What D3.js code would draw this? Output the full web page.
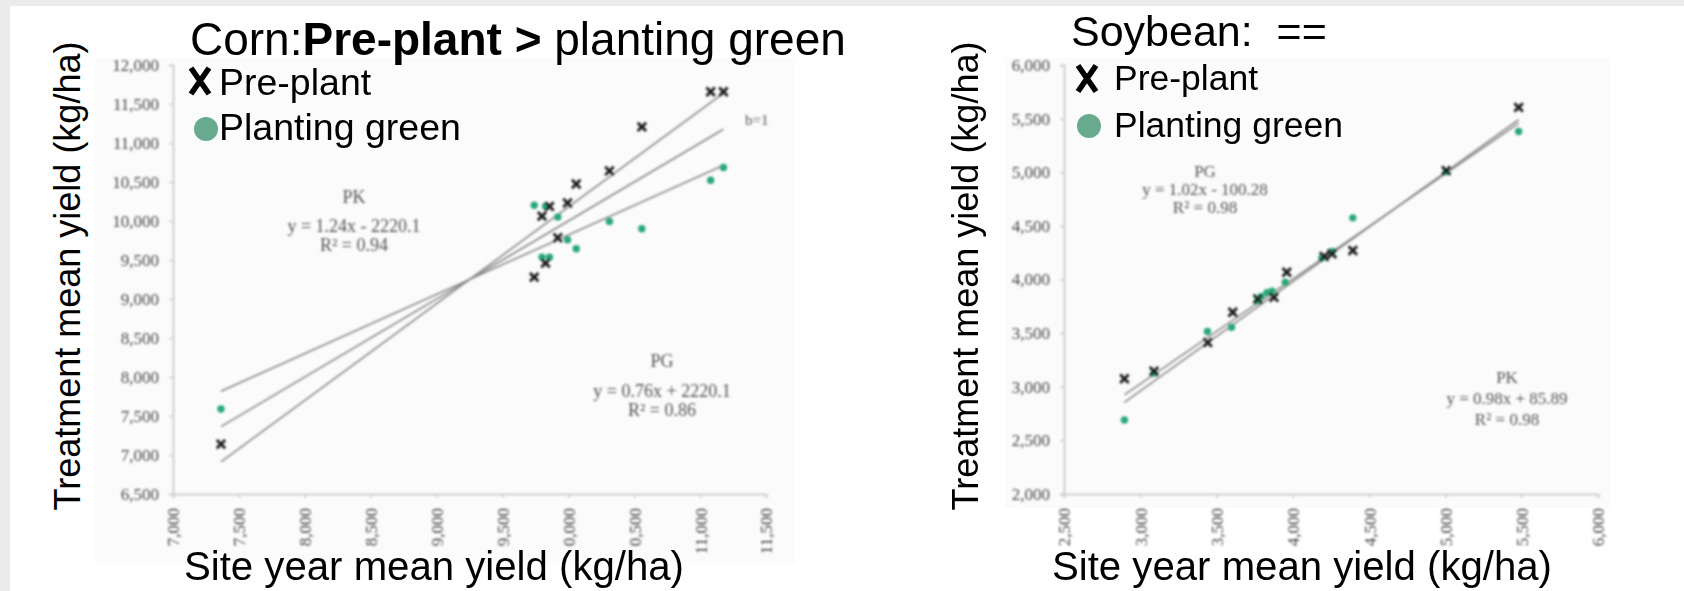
<!DOCTYPE html>
<html>
<head>
<meta charset="utf-8">
<script src="https://cdn.jsdelivr.net/npm/d3@7"></script>
<style>
  body { margin: 0; background: #ebebeb; }
  svg { display: block; }
</style>
</head>
<body>
<svg id="fig" width="1684" height="591"></svg>
<script>
// ---------------- Corn (site-year mean is shared by both treatments) ----------------
const cornSiteYear      = [7364, 9741, 9800, 9827, 9857, 9920, 9994, 10060, 10312, 10558, 11080, 11177];
const cornPrePlant      = [7139, 9280, 10063, 9460, 10188, 9786, 10231, 10475, 10642, 11207, 11657, 11657];
const cornPlantingGreen = [7589, 10201, 9537, 10190, 9537, 10051, 9760, 9645, 9995, 9901, 10522, 10685];
const cornXTicks = [7000, 7500, 8000, 8500, 9000, 9500, 10000, 10500, 11000, 11500];
const cornXTickLabels = ["7,000", "7,500", "8,000", "8,500", "9,000", "9,500", "0,000", "0,500", "11,000", "11,500"];
const cornYTicks = [6500, 7000, 7500, 8000, 8500, 9000, 9500, 10000, 10500, 11000, 11500, 12000];
// fitted lines: [label, slope, intercept]
const cornFits = [["PK", 1.24, -2220.1], ["PG", 0.76, 2220.1], ["1:1", 1, 0]];

// ---------------- Soybean ----------------
const soyPrePlantSite = [5480, 5005, 4393, 4257, 4205, 3960, 3876, 3770, 3606, 3442, 3090, 2896];
const soyPrePlant     = [5605, 5015, 4270, 4240, 4215, 4068, 3835, 3818, 3695, 3412, 3145, 3075];
const soyGreenSite    = [5480, 5005, 4393, 4257, 4190, 3950, 3863, 3830, 3790, 3768, 3598, 3440, 3090, 2896];
const soyPlantingGreen= [5380, 5005, 4575, 4262, 4200, 3975, 3892, 3878, 3840, 3800, 3555, 3515, 3125, 2690];
const soyXTicks = [2500, 3000, 3500, 4000, 4500, 5000, 5500, 6000];
const soyYTicks = [2000, 2500, 3000, 3500, 4000, 4500, 5000, 5500, 6000];
const soyFits = [["PG", 1.02, -100.28], ["PK", 0.98, 85.89]];

const fmt = d3.format(",");
const svg = d3.select("#fig");

// white slide area
svg.append("rect").attr("x", 10).attr("y", 6).attr("width", 1674).attr("height", 585).attr("fill", "#ffffff");

const defs = svg.append("defs");
defs.append("filter").attr("id", "soft").attr("x", "-5%").attr("y", "-5%").attr("width", "110%").attr("height", "110%")
  .append("feGaussianBlur").attr("stdDeviation", 0.8);

function panel(cfg) {
  const x = d3.scaleLinear().domain(cfg.xDomain).range(cfg.xRange);
  const y = d3.scaleLinear().domain(cfg.yDomain).range(cfg.yRange);

  // faint background of the pasted plot
  svg.append("rect").attr("x", cfg.bg[0]).attr("y", cfg.bg[1]).attr("width", cfg.bg[2]).attr("height", cfg.bg[3])
    .attr("fill", "#fbfbfb");

  const g = svg.append("g").attr("filter", "url(#soft)");

  // axes
  const yAxis = d3.axisLeft(y).tickValues(cfg.yTicks).tickFormat(fmt).tickSize(4).tickPadding(10);
  const xAxis = d3.axisBottom(x).tickValues(cfg.xTicks).tickFormat((d, i) => cfg.xLabels[i]).tickSize(4).tickPadding(6);

  const gy = g.append("g").attr("transform", `translate(${cfg.xRange[0]},0)`).call(yAxis);
  const gx = g.append("g").attr("transform", `translate(0,${cfg.yRange[0]})`).call(xAxis);
  [gx, gy].forEach(a => {
    a.select(".domain").attr("stroke", "#cfcfcf").attr("stroke-width", 2);
    a.selectAll(".tick line").attr("stroke", "#cfcfcf").attr("stroke-width", 1.5);
    a.selectAll("text").attr("font-family", "'Liberation Serif', 'Times New Roman', serif")
      .attr("font-size", cfg.tickFont).attr("fill", "#4a4a4a");
  });
  gx.selectAll(".tick text")
    .attr("text-anchor", "end")
    .attr("dy", "0.35em")
    .attr("transform", "translate(0,8) rotate(-90)")
    .attr("x", -6).attr("y", 0);

  // fitted lines over the data range
  const allX = cfg.xSeries.flat();
  const x0 = d3.min(allX), x1 = d3.max(allX);
  const line = d3.line().x(d => x(d[0])).y(d => y(d[1]));
  g.selectAll(".fit").data(cfg.fits).join("path")
    .attr("class", "fit")
    .attr("d", f => line([[x0, f[1] * x0 + f[2]], [x1, f[1] * x1 + f[2]]]))
    .attr("stroke", "#8a8a8a").attr("stroke-width", 1.6).attr("fill", "none");

  // planting green points
  g.selectAll(".pg").data(cfg.greenY.map((v, i) => [cfg.greenX[i], v])).join("circle")
    .attr("class", "pg")
    .attr("cx", d => x(d[0])).attr("cy", d => y(d[1])).attr("r", 3.7)
    .attr("fill", "#2ca87a");

  // pre-plant points
  g.selectAll(".pp").data(cfg.ppY.map((v, i) => [cfg.ppX[i], v])).join("path")
    .attr("class", "pp")
    .attr("transform", d => `translate(${x(d[0])},${y(d[1])})`)
    .attr("d", "M-4.2,-4.2L4.2,4.2M4.2,-4.2L-4.2,4.2")
    .attr("stroke", "#1b1b1b").attr("stroke-width", 2.8).attr("fill", "none");

  // equation annotations
  cfg.notes.forEach(n => {
    const t = g.append("text").attr("font-family", "'Liberation Serif', 'Times New Roman', serif")
      .attr("font-size", n.size).attr("fill", "#555").attr("text-anchor", n.anchor || "middle");
    n.lines.forEach((s, i) => {
      t.append("tspan").attr("x", n.x).attr("y", n.ys[i]).text(s);
    });
  });

  // axis titles
  svg.append("text")
    .attr("transform", `translate(${cfg.yTitleX},${cfg.yTitleY}) rotate(-90)`)
    .attr("text-anchor", "middle")
    .attr("font-family", "'Liberation Sans', Arial, sans-serif").attr("font-size", 36).attr("fill", "#000")
    .text("Treatment mean yield (kg/ha)");
  svg.append("text")
    .attr("x", cfg.xTitleX).attr("y", 580)
    .attr("font-family", "'Liberation Sans', Arial, sans-serif").attr("font-size", 40).attr("fill", "#000")
    .attr("textLength", 500).attr("lengthAdjust", "spacingAndGlyphs")
    .text("Site year mean yield (kg/ha)");

  // legend: tall narrow cross, filled dot, labels
  const L = cfg.legend;
  svg.append("path")
    .attr("transform", `translate(${L.xx},${L.xy})`)
    .attr("d", "M-9,-13L9,13M9,-13L-9,13")
    .attr("stroke", "#000").attr("stroke-width", 5.6).attr("fill", "none");
  svg.append("text").attr("x", L.tx).attr("y", L.y1)
    .attr("font-family", "'Liberation Sans', Arial, sans-serif").attr("font-size", L.size).attr("fill", "#000")
    .text("Pre-plant");
  svg.append("circle").attr("cx", L.dx).attr("cy", L.y2 - 11).attr("r", 12).attr("fill", "#68aa8e");
  svg.append("text").attr("x", L.tx).attr("y", L.y2)
    .attr("font-family", "'Liberation Sans', Arial, sans-serif").attr("font-size", L.size).attr("fill", "#000")
    .text("Planting green");
}

// Corn panel
panel({
  xDomain: [7000, 11500], xRange: [173, 766],
  yDomain: [6500, 12000], yRange: [494, 65],
  xTicks: cornXTicks, xLabels: cornXTickLabels, yTicks: cornYTicks,
  tickFont: 17,
  xSeries: [cornSiteYear],
  ppX: cornSiteYear, ppY: cornPrePlant,
  greenX: cornSiteYear, greenY: cornPlantingGreen,
  fits: cornFits,
  bg: [95, 58, 700, 505],
  notes: [
    { x: 354, ys: [203, 232, 251], size: 18, lines: ["PK", "y = 1.24x - 2220.1", "R² = 0.94"] },
    { x: 662, ys: [367, 397, 416], size: 18, lines: ["PG", "y = 0.76x + 2220.1", "R² = 0.86"] },
    { x: 745, ys: [125], size: 15, anchor: "start", lines: ["b=1"] }
  ],
  yTitleX: 80, yTitleY: 276, xTitleX: 184,
  legend: { xx: 200, xy: 81, dx: 206, tx: 219, y1: 95, y2: 140, size: 37.5 }
});

// Soybean panel
panel({
  xDomain: [2500, 6000], xRange: [1064, 1598],
  yDomain: [2000, 6000], yRange: [494, 65],
  xTicks: soyXTicks, xLabels: soyXTicks.map(fmt), yTicks: soyYTicks,
  tickFont: 17,
  xSeries: [soyPrePlantSite, soyGreenSite],
  ppX: soyPrePlantSite, ppY: soyPrePlant,
  greenX: soyGreenSite, greenY: soyPlantingGreen,
  fits: soyFits,
  bg: [1005, 58, 605, 450],
  notes: [
    { x: 1205, ys: [177, 195, 213], size: 17, lines: ["PG", "y = 1.02x - 100.28", "R² = 0.98"] },
    { x: 1507, ys: [383, 404, 425], size: 17, lines: ["PK", "y = 0.98x + 85.89", "R² = 0.98"] }
  ],
  yTitleX: 978, yTitleY: 276, xTitleX: 1052,
  legend: { xx: 1087, xy: 78.5, dx: 1089, tx: 1114, y1: 90, y2: 137, size: 35.5 }
});

// panel titles
const corn = svg.append("text").attr("x", 190).attr("y", 55)
  .attr("font-family", "'Liberation Sans', Arial, sans-serif").attr("font-size", 46).attr("fill", "#000");
corn.append("tspan").text("Corn:");
corn.append("tspan").attr("font-weight", "bold").text("Pre-plant >");
corn.append("tspan").text(" planting green");

svg.append("text").attr("x", 1071).attr("y", 46)
  .attr("font-family", "'Liberation Sans', Arial, sans-serif").attr("font-size", 43).attr("fill", "#000")
  .style("white-space", "pre")
  .text("Soybean:  ==");
</script>
</body>
</html>
